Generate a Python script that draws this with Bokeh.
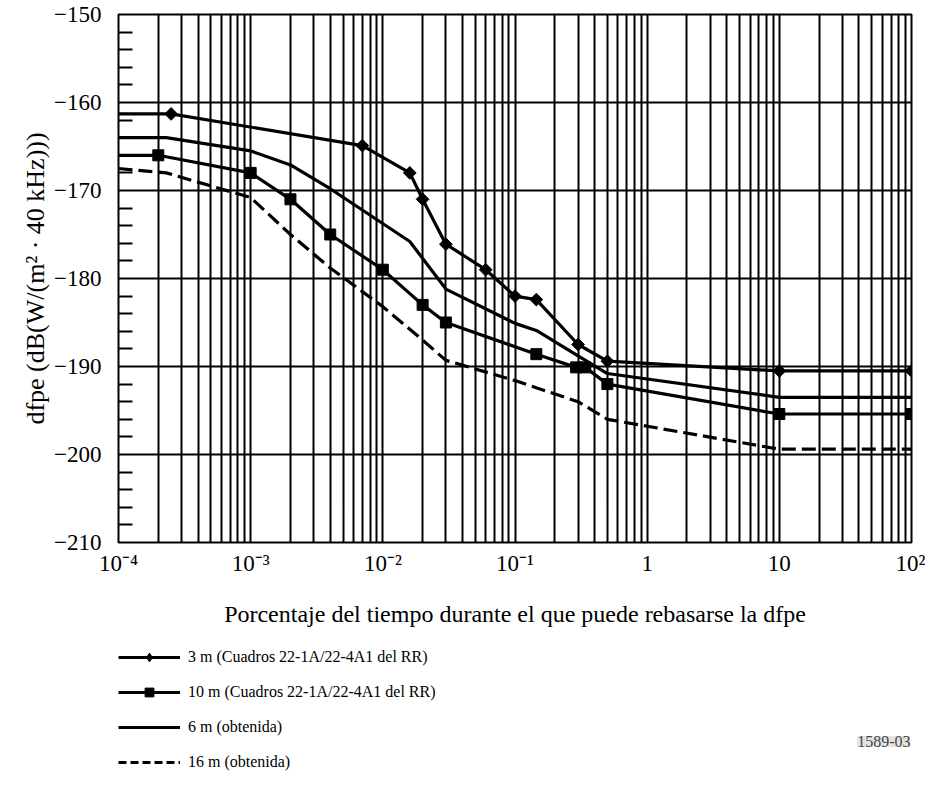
from bokeh.plotting import figure
from bokeh.layouts import column
from bokeh.models import (Range1d, FixedTicker, Legend, LegendItem, Label)
from bokeh.embed import file_html
from bokeh.resources import INLINE
import math

# ---------------- data ----------------
x_3m = [1e-4, 2.5e-4, 7e-3, 0.016, 0.02, 0.03, 0.06, 0.1, 0.145, 0.3, 0.5, 10, 100]
y_3m = [-161.3, -161.3, -164.9, -168.0, -171.0, -176.1, -179.0, -182.0, -182.4, -187.5, -189.4, -190.5, -190.5]

x_10m = [1e-4, 2e-4, 1e-3, 2e-3, 4e-3, 0.01, 0.02, 0.03, 0.145, 0.29, 0.34, 0.5, 10, 100]
y_10m = [-166.0, -166.0, -168.0, -171.0, -175.0, -179.0, -183.0, -185.0, -188.6, -190.1, -190.1, -192.0, -195.4, -195.4]

x_6m = [1e-4, 2.3e-4, 1e-3, 2e-3, 4e-3, 0.016, 0.03, 0.1, 0.145, 0.3, 0.5, 10, 100]
y_6m = [-164.0, -164.0, -165.5, -167.1, -169.8, -175.8, -181.2, -185.1, -185.9, -188.8, -190.8, -193.5, -193.5]

x_16m = [1e-4, 2.3e-4, 1e-3, 2e-3, 4e-3, 0.01, 0.02, 0.03, 0.1, 0.3, 0.5, 10, 100]
y_16m = [-167.5, -168.0, -170.8, -175.0, -178.8, -183.2, -187.0, -189.3, -191.6, -194.0, -196.0, -199.4, -199.4]

labels = ["3 m (Cuadros 22-1A/22-4A1 del RR)",
          "10 m (Cuadros 22-1A/22-4A1 del RR)",
          "6 m (obtenida)",
          "16 m (obtenida)"]

x_major = [1e-4, 1e-3, 1e-2, 1e-1, 1, 10, 100]
x_major_labels = ["10⁻⁴", "10⁻³", "10⁻²", "10⁻¹", "1", "10", "10²"]
y_major = [-210, -200, -190, -180, -170, -160, -150]
y_major_labels = ["−210", "−200", "−190", "−180", "−170", "−160", "−150"]

x_title = "Porcentaje del tiempo durante el que puede rebasarse la dfpe"
y_title = "dfpe (dB(W/(m² · 40 kHz)))"
fig_id = "1589-03"

# ---------------- main figure ----------------
FONT = "Liberation Serif"
W = 925

p = figure(width=W, height=640, x_axis_type="log",
           x_range=Range1d(1e-4, 1e2), y_range=Range1d(-210, -150),
           output_backend="svg", toolbar_location=None,
           min_border_left=118, min_border_right=14,
           min_border_top=14, min_border_bottom=98)

p.outline_line_color = "black"
p.outline_line_width = 2
p.background_fill_color = "white"
p.border_fill_color = "white"

x_grid = []
for d in range(-4, 2):
    for m in range(1, 10):
        x_grid.append(m * 10.0 ** d)
x_grid.append(100.0)
y_minor = [v for v in range(-210, -149, 2) if v % 10 != 0]

p.xgrid.ticker = FixedTicker(ticks=x_grid)
p.ygrid.ticker = FixedTicker(ticks=y_major)
for g in (p.xgrid, p.ygrid):
    g.grid_line_color = "black"
    g.grid_line_width = 2
    g.grid_line_alpha = 1

xa = p.xaxis[0]
ya = p.yaxis[0]
xa.ticker = FixedTicker(ticks=x_major)
ya.ticker = FixedTicker(ticks=y_major, minor_ticks=y_minor)
xa.major_label_overrides = {v: s for v, s in zip(x_major, x_major_labels)}
ya.major_label_overrides = {v: s for v, s in zip(y_major, y_major_labels)}

for ax in (xa, ya):
    ax.axis_line_color = None
    ax.major_tick_in = 0
    ax.major_tick_out = 0
    ax.major_label_text_font = FONT
    ax.major_label_text_font_size = "23px"
    ax.major_label_text_color = "black"
    ax.axis_label_text_font = FONT
    ax.axis_label_text_font_style = "normal"
    ax.axis_label_text_color = "black"
    ax.axis_label_text_font_size = "24px"
xa.minor_tick_in = 0
xa.minor_tick_out = 0
ya.minor_tick_in = 14
ya.minor_tick_out = 0
ya.minor_tick_line_color = "black"
ya.minor_tick_line_width = 2

xa.axis_label = x_title
xa.major_label_standoff = 8
xa.axis_label_standoff = 22
ya.axis_label = y_title
ya.axis_label_text_font_size = "26px"
ya.major_label_standoff = 17
ya.axis_label_standoff = 1

LW = 3.2
DASH = "14 6"
p.line(x_3m, y_3m, line_color="black", line_width=LW)
p.scatter(x_3m[1:], y_3m[1:], marker="square", angle=math.pi / 4,
          size=9, fill_color="black", line_color="black")
p.line(x_10m, y_10m, line_color="black", line_width=LW)
p.scatter(x_10m[1:], y_10m[1:], marker="square", size=11,
          fill_color="black", line_color="black")
p.line(x_6m, y_6m, line_color="black", line_width=LW)
p.line(x_16m, y_16m, line_color="black", line_width=LW, line_dash=DASH)

# ---------------- legend strip (hidden copies of the series, legend only) ----------------
L = figure(width=W, height=145, x_range=Range1d(0, 1), y_range=Range1d(0, 1),
           output_backend="svg", toolbar_location=None,
           x_axis_location=None, y_axis_location=None,
           min_border_left=0, min_border_right=0,
           min_border_top=0, min_border_bottom=0)
L.grid.visible = False
L.outline_line_color = None
L.background_fill_color = "white"
L.border_fill_color = "white"

l3 = L.line(x_3m, y_3m, line_color="black", line_width=LW, visible=False)
s3 = L.scatter(x_3m, y_3m, marker="diamond", size=9,
               fill_color="black", line_color="black", visible=False)
l10 = L.line(x_10m, y_10m, line_color="black", line_width=LW, visible=False)
s10 = L.scatter(x_10m, y_10m, marker="square", size=8,
                fill_color="black", line_color="black", visible=False)
l6 = L.line(x_6m, y_6m, line_color="black", line_width=LW, visible=False)
l16 = L.line(x_16m, y_16m, line_color="black", line_width=LW,
             line_dash="8 4", visible=False)

legend = Legend(items=[LegendItem(label=labels[0], renderers=[l3, s3]),
                       LegendItem(label=labels[1], renderers=[l10, s10]),
                       LegendItem(label=labels[2], renderers=[l6]),
                       LegendItem(label=labels[3], renderers=[l16])],
                location=(0, 12), orientation="vertical",
                glyph_width=62, glyph_height=22, label_height=22,
                spacing=13, padding=0, margin=0, label_standoff=8,
                label_text_font=FONT, label_text_font_size="16px",
                label_text_color="black",
                inactive_fill_alpha=0, click_policy="none",
                border_line_color=None, background_fill_alpha=0)
L.add_layout(legend, "center")

L.add_layout(Label(x=792, y=44, x_units="screen", y_units="screen",
                   text=fig_id, text_font=FONT, text_font_size="16px",
                   text_align="right", text_baseline="middle",
                   background_fill_color="#e4e4e4"))

layout = column(p, L, spacing=0)
open("out.html", "w").write(file_html(layout, INLINE))
